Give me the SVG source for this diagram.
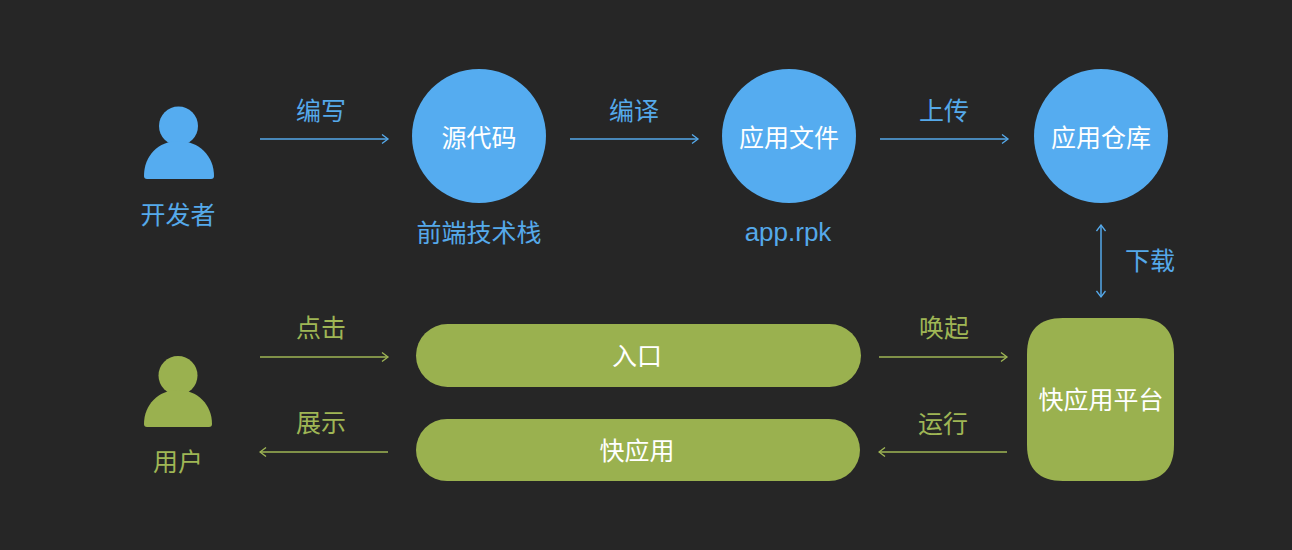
<svg xmlns="http://www.w3.org/2000/svg" width="1292" height="550" viewBox="0 0 1292 550">
<style>
text{font-family:"Liberation Sans","Noto Sans CJK SC",sans-serif;text-anchor:middle}
.b{fill:#55acf0}.g{fill:#9ab14f}
.tb{fill:#55a9ea}.tg{fill:#9fb655}
.w{fill:#fff}
.s25{font-size:25px}
.lb{stroke:#55a9ea;stroke-width:1.5;fill:none}
.lg{stroke:#9fb655;stroke-width:1.5;fill:none}
</style>
<defs>
<marker id="ab" viewBox="0 0 10 10" refX="8.500" refY="5" markerWidth="10" markerHeight="10" markerUnits="userSpaceOnUse" orient="auto-start-reverse"><path d="M2.500 0.500L8.500 5L2.500 9.500" fill="none" stroke="#55a9ea" stroke-width="1.3"/></marker>
<marker id="ag" viewBox="0 0 10 10" refX="8.500" refY="5" markerWidth="10" markerHeight="10" markerUnits="userSpaceOnUse" orient="auto-start-reverse"><path d="M2.500 0.500L8.500 5L2.500 9.500" fill="none" stroke="#9fb655" stroke-width="1.3"/></marker>
</defs>
<rect width="1292" height="550" fill="#262626"/>
<g id="connectors">
<path class="lb" d="M260 139H388" marker-end="url(#ab)"/>
<path class="lb" d="M570 139H698" marker-end="url(#ab)"/>
<path class="lb" d="M880 139H1008" marker-end="url(#ab)"/>
<path class="lb" d="M1101 225V297" marker-start="url(#ab)" marker-end="url(#ab)"/>
<path class="lg" d="M260 357H388" marker-end="url(#ag)"/>
<path class="lg" d="M879 357H1007" marker-end="url(#ag)"/>
<path class="lg" d="M388 452H260" marker-end="url(#ag)"/>
<path class="lg" d="M1007 452H879" marker-end="url(#ag)"/>
<text class="tb s25" x="321" y="120">编写</text>
<text class="tb s25" x="634" y="120">编译</text>
<text class="tb s25" x="944" y="120">上传</text>
<text class="tb s25" x="1150" y="270">下载</text>
<text class="tg s25" x="321" y="337">点击</text>
<text class="tg s25" x="321" y="432">展示</text>
<text class="tg s25" x="944" y="337">唤起</text>
<text class="tg s25" x="943" y="433">运行</text>
</g>
<g id="developer">
<circle class="b" cx="178.500" cy="126" r="19.500"/>
<path class="b" d="M144 176C144 156 158 141 178.500 141C199 141 214 156 214 176Q214 179 211 179H147Q144 179 144 176Z"/>
<text class="tb s25" x="178" y="224">开发者</text>
</g>
<g id="source"><circle class="b" cx="479" cy="136" r="67"/><text class="w s25" x="479" y="147">源代码</text><text class="tb s25" x="479" y="242">前端技术栈</text></g>
<g id="appfile"><circle class="b" cx="789" cy="136" r="67"/><text class="w s25" x="789" y="147">应用文件</text><text class="tb" font-size="26" x="788" y="241">app.rpk</text></g>
<g id="repo"><circle class="b" cx="1101" cy="136" r="67"/><text class="w s25" x="1101" y="147">应用仓库</text></g>
<g id="user">
<circle class="g" cx="178" cy="375.500" r="19.500"/>
<path class="g" d="M144 424C144 405 158 390 178 390C198 390 212 405 212 424Q212 427 209 427H147Q144 427 144 424Z"/>
<text class="tg s25" x="178" y="471">用户</text>
</g>
<g id="entry"><rect class="g" x="416" y="324" width="445" height="63" rx="31.500"/><text class="w s25" x="637" y="365">入口</text></g>
<g id="quickapp"><rect class="g" x="416" y="419" width="444" height="62" rx="31"/><text class="w s25" x="637" y="460">快应用</text></g>
<g id="platform"><path class="g" d="M1063 318H1138C1162 318 1174 330 1174 354V445C1174 469 1162 481 1138 481H1063C1039 481 1027 469 1027 445V354C1027 330 1039 318 1063 318Z"/><text class="w s25" x="1101" y="409">快应用平台</text></g>
</svg>
